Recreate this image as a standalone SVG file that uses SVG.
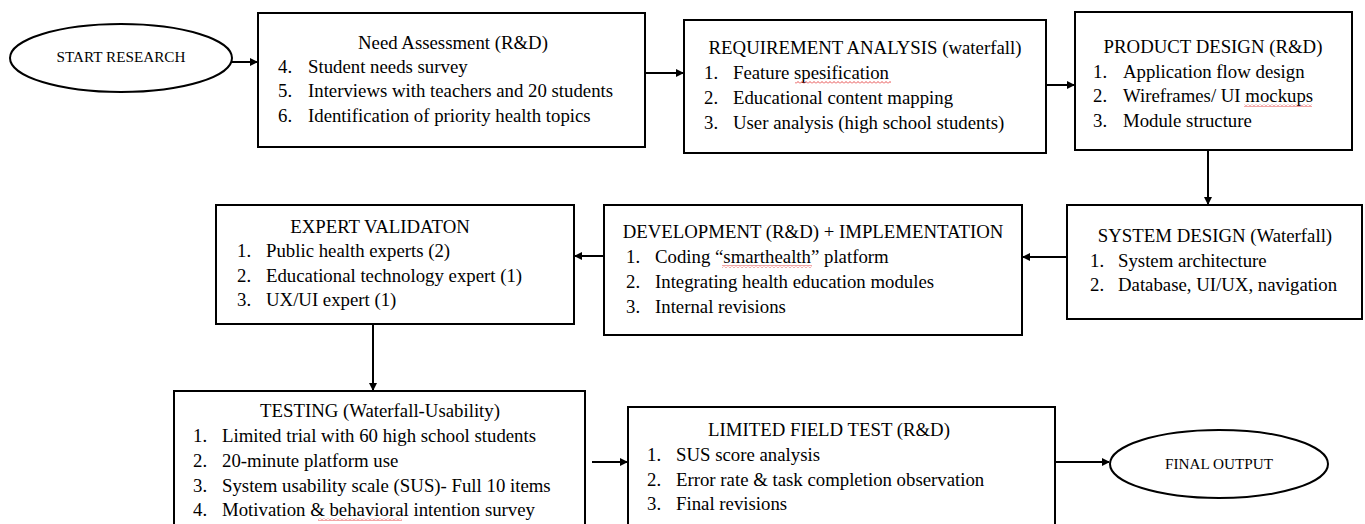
<svg xmlns="http://www.w3.org/2000/svg" width="1365" height="524" viewBox="0 0 1365 524">
<defs>
<style>
.box{fill:#fff;stroke:#000;stroke-width:2}
.t{font-family:"Liberation Serif","Times New Roman",serif;font-size:18.8px;fill:#000}
.c{text-anchor:middle}
.s{font-family:"Liberation Serif","Times New Roman",serif;font-size:15.2px;fill:#000;text-anchor:middle}
.ln{fill:none;stroke:#000;stroke-width:2}
.sq{fill:url(#wv)}
</style>
<pattern id="wv" x="0" y="0" width="4" height="3" patternUnits="userSpaceOnUse">
<path d="M0,2.5 L2,0.5 L4,2.5" stroke="#e02020" fill="none" stroke-width="0.8"/>
</pattern>
<marker id="ah" markerWidth="8" markerHeight="8" refX="7" refY="4" orient="auto" markerUnits="userSpaceOnUse">
<path d="M0,0 L8,4 L0,8 Z" fill="#000"/>
</marker>
</defs>
<rect width="1365" height="524" fill="#fff"/>
<g id="start">
<ellipse class="box" cx="121" cy="58" rx="111" ry="34"/>
<text class="s" x="121" y="62">START RESEARCH</text>
</g>
<g id="need">
<rect class="box" x="258" y="13" width="387" height="134"/>
<text class="t c" x="453" y="49">Need Assessment (R&amp;D)</text>
<text class="t" x="278" y="73">4.</text><text class="t" x="308" y="73">Student needs survey</text>
<text class="t" x="278" y="97">5.</text><text class="t" x="308" y="97">Interviews with teachers and 20 students</text>
<text class="t" x="278" y="122">6.</text><text class="t" x="308" y="122">Identification of priority health topics</text>
</g>
<g id="req">
<rect class="box" x="684" y="20" width="362" height="133"/>
<text class="t c" x="865" y="54">REQUIREMENT ANALYSIS (waterfall)</text>
<text class="t" x="704" y="79">1.</text><text class="t" x="733" y="79">Feature spesification</text>
<text class="t" x="704" y="104">2.</text><text class="t" x="733" y="104">Educational content mapping</text>
<text class="t" x="704" y="129">3.</text><text class="t" x="733" y="129">User analysis (high school students)</text>
<rect class="sq" x="795" y="81" width="96" height="3"/>
</g>
<g id="product">
<rect class="box" x="1075" y="12" width="277" height="138"/>
<text class="t c" x="1213" y="53">PRODUCT DESIGN (R&amp;D)</text>
<text class="t" x="1093" y="78">1.</text><text class="t" x="1123" y="78">Application flow design</text>
<text class="t" x="1093" y="102">2.</text><text class="t" x="1123" y="102">Wireframes/ UI mockups</text>
<text class="t" x="1093" y="127">3.</text><text class="t" x="1123" y="127">Module structure</text>
<rect class="sq" x="1244" y="104" width="68" height="3"/>
</g>
<g id="system">
<rect class="box" x="1067" y="205" width="295" height="114"/>
<text class="t c" x="1215" y="242">SYSTEM DESIGN (Waterfall)</text>
<text class="t" x="1090" y="267">1.</text><text class="t" x="1118" y="267">System architecture</text>
<text class="t" x="1090" y="291">2.</text><text class="t" x="1118" y="291">Database, UI/UX, navigation</text>
</g>
<g id="dev">
<rect class="box" x="604" y="205" width="418" height="130"/>
<text class="t c" x="813" y="238">DEVELOPMENT (R&amp;D) + IMPLEMENTATION</text>
<text class="t" x="626" y="263">1.</text><text class="t" x="655" y="263">Coding “smarthealth” platform</text>
<text class="t" x="626" y="288">2.</text><text class="t" x="655" y="288">Integrating health education modules</text>
<text class="t" x="626" y="313">3.</text><text class="t" x="655" y="313">Internal revisions</text>
<rect class="sq" x="722" y="265" width="90" height="3"/>
</g>
<g id="expert">
<rect class="box" x="216" y="205" width="358" height="119"/>
<text class="t c" x="380" y="233">EXPERT VALIDATON</text>
<text class="t" x="237" y="257">1.</text><text class="t" x="266" y="257">Public health experts (2)</text>
<text class="t" x="237" y="282">2.</text><text class="t" x="266" y="282">Educational technology expert (1)</text>
<text class="t" x="237" y="306">3.</text><text class="t" x="266" y="306">UX/UI expert (1)</text>
</g>
<g id="testing">
<rect class="box" x="174" y="391" width="411" height="140"/>
<text class="t c" x="380" y="417">TESTING (Waterfall-Usability)</text>
<text class="t" x="193" y="442">1.</text><text class="t" x="222" y="442">Limited trial with 60 high school students</text>
<text class="t" x="193" y="467">2.</text><text class="t" x="222" y="467">20-minute platform use</text>
<text class="t" x="193" y="492">3.</text><text class="t" x="222" y="492">System usability scale (SUS)- Full 10 items</text>
<text class="t" x="193" y="516">4.</text><text class="t" x="222" y="516">Motivation &amp; behavioral intention survey</text>
<rect class="sq" x="318" y="518" width="84" height="3"/>
</g>
<g id="field">
<rect class="box" x="628" y="407" width="427" height="124"/>
<text class="t c" x="829" y="436">LIMITED FIELD TEST (R&amp;D)</text>
<text class="t" x="647" y="461">1.</text><text class="t" x="676" y="461">SUS score analysis</text>
<text class="t" x="647" y="486">2.</text><text class="t" x="676" y="486">Error rate &amp; task completion observation</text>
<text class="t" x="647" y="510">3.</text><text class="t" x="676" y="510">Final revisions</text>
</g>
<g id="final">
<ellipse class="box" cx="1219" cy="464" rx="109" ry="34"/>
<text class="s" x="1219" y="469">FINAL OUTPUT</text>
</g>
<g id="connectors">
<line class="ln" x1="232" y1="62" x2="257" y2="62" marker-end="url(#ah)"/>
<line class="ln" x1="645" y1="73" x2="683" y2="73" marker-end="url(#ah)"/>
<line class="ln" x1="1046" y1="85" x2="1074" y2="85" marker-end="url(#ah)"/>
<line class="ln" x1="1208" y1="150" x2="1208" y2="204" marker-end="url(#ah)"/>
<line class="ln" x1="1067" y1="257" x2="1023" y2="257" marker-end="url(#ah)"/>
<line class="ln" x1="604" y1="256" x2="575" y2="256" marker-end="url(#ah)"/>
<line class="ln" x1="373" y1="324" x2="373" y2="390" marker-end="url(#ah)"/>
<line class="ln" x1="592" y1="462" x2="627" y2="462" marker-end="url(#ah)"/>
<line class="ln" x1="1055" y1="462" x2="1109" y2="462" marker-end="url(#ah)"/>
</g>
</svg>
